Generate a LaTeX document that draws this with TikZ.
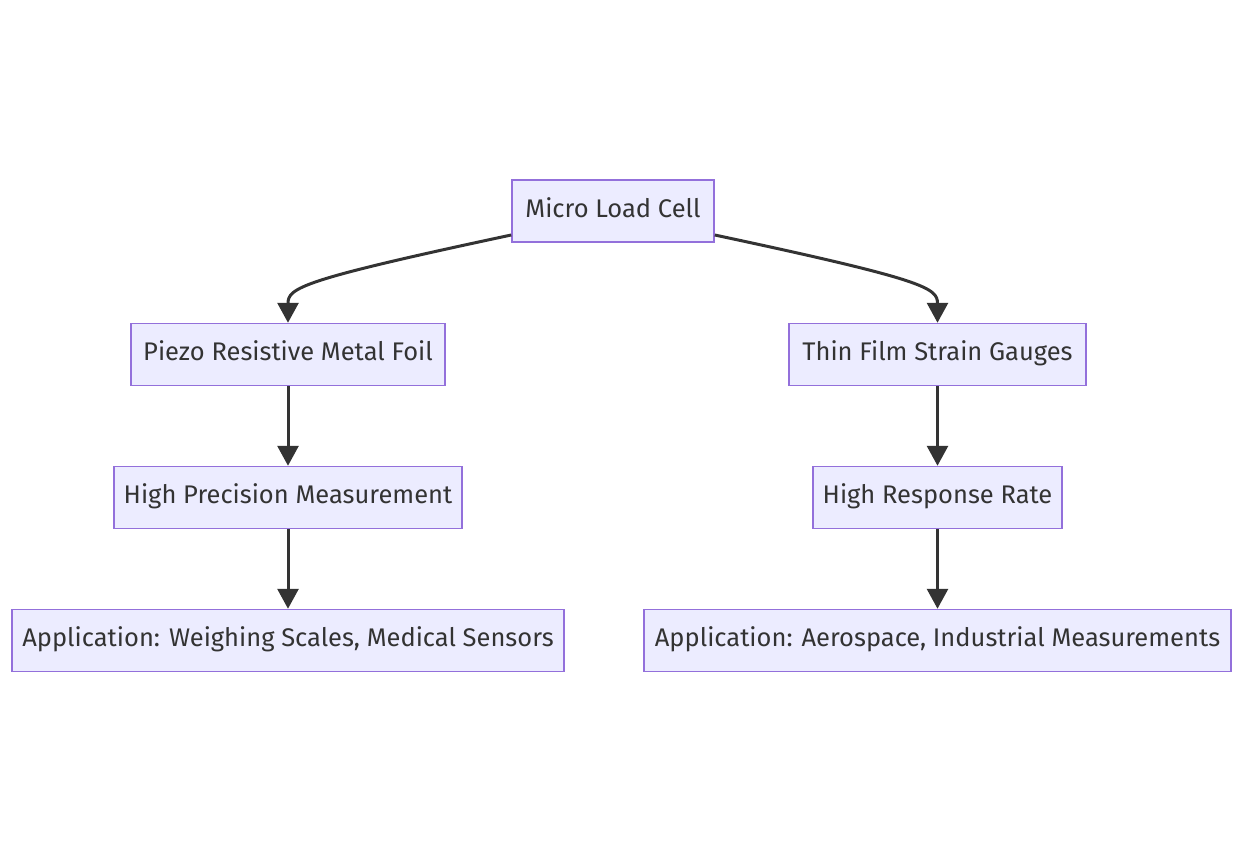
\documentclass[tikz,border=0pt]{standalone}
\usepackage{fontspec}
\setmainfont{Fira Sans}
\usetikzlibrary{arrows.meta}
\definecolor{nodefill}{HTML}{ECECFF}
\definecolor{nodeline}{HTML}{9370DB}
\definecolor{ink}{HTML}{333333}
\begin{document}
\begin{tikzpicture}[x=1pt,y=-1pt,
  box/.style={draw=nodeline, fill=nodefill, line width=1.5pt, minimum height=62pt, inner sep=0pt, text height=18pt, text depth=6pt, text=ink, font=\fontsize{25.5}{31}\selectfont},
  link/.style={draw=ink, line width=3pt, -{Triangle[length=20pt,width=21pt]}}]
\useasboundingbox (0,0) rectangle (1244,853);
\node[box, minimum width=202pt] (mlc) at (613,211) {Micro Load Cell};
\node[box, minimum width=314pt] (pz) at (288,354.5) {Piezo Resistive Metal Foil};
\node[box, minimum width=297pt] (tf) at (937.5,354.5) {Thin Film Strain Gauges};
\node[box, minimum width=348pt] (hp) at (288,497.5) {High Precision Measurement};
\node[box, minimum width=249pt] (hr) at (937.5,497.5) {High Response Rate};
\node[box, minimum width=552pt] (a1) at (288,640.5) {Application: Weighing Scales, Medical Sensors};
\node[box, minimum width=587pt] (a2) at (937.5,640.5) {Application: Aerospace, Industrial Measurements};
\coordinate (s1) at ([yshift=-24pt]mlc.west);
\coordinate (s2) at ([yshift=-24pt]mlc.east);
\draw[link] (s1) .. controls (300,280) and (288,288) .. (pz.north);
\draw[link] (s2) .. controls (926,280) and (937.5,288) .. (tf.north);
\draw[link] (pz) -- (hp);
\draw[link] (hp) -- (a1);
\draw[link] (tf) -- (hr);
\draw[link] (hr) -- (a2);
\end{tikzpicture}
\end{document}
